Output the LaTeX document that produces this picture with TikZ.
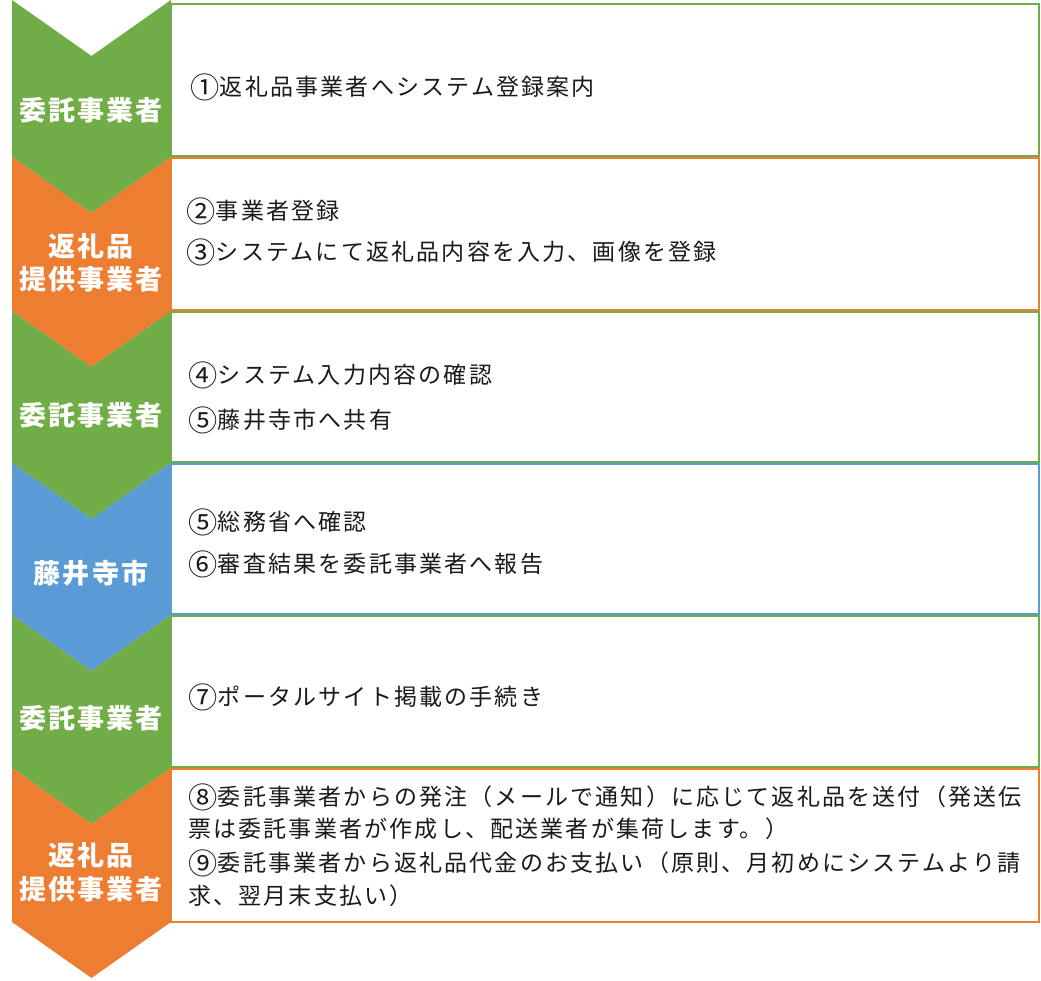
\documentclass[tikz,border=0pt]{standalone}
\usepackage{fontspec}
\usepackage{graphicx}
\newfontfamily\jp[LetterSpace=9.5]{Noto Sans CJK JP}
\newfontfamily\jpbold[LetterSpace=8]{Noto Sans CJK JP}
\newcommand\cnum[1]{\raisebox{-2.2pt}{\scalebox{1.27}{#1}}\hspace{0.5pt}}
\definecolor{cgreen}{HTML}{70AD47}
\definecolor{corange}{HTML}{ED7D31}
\definecolor{cblue}{HTML}{5B9BD5}
\definecolor{ctext}{HTML}{1A1A1A}
\tikzset{
  body/.style={anchor=west,inner sep=0pt,text=ctext,font=\jp\fontsize{23}{28}\selectfont},
  lab/.style={inner sep=0pt,text=white,font=\jpbold\bfseries\fontsize{27}{30}\selectfont},
  rowbox/.style={draw=#1,line width=2.2pt,fill=white},
}
\begin{document}
\begin{tikzpicture}[x=1pt,y=-1pt]
\useasboundingbox (0,0) rectangle (1041,981);
% chevrons
\foreach \t/\b/\c in {0/157/cgreen,157/311/corange,311/463/cgreen,463/615/cblue,615/768/cgreen,768/922/corange}{
  \fill[\c] (12,\t) -- (91.5,\t+56) -- (171,\t) -- (171,\b) -- (91.5,\b+56) -- (12,\b) -- cycle;
}
% boxes
\draw[rowbox=cgreen]  (171,4) rectangle (1039,156);
\draw[rowbox=corange] (171,158) rectangle (1039,310);
\draw[rowbox=cgreen]  (171,312) rectangle (1039,462);
\draw[rowbox=cblue]   (171,464) rectangle (1039,614);
\draw[rowbox=cgreen]  (171,616) rectangle (1039,767);
\draw[rowbox=corange] (171,769) rectangle (1039,922);
% chevron labels
\node[lab] (l1) at (91,110) {委託事業者};
\node[lab] (l2a) at (91,246) {返礼品};
\node[lab] (l2b) at (91,279) {提供事業者};
\node[lab] (l3) at (91,415) {委託事業者};
\node[lab] (l4) at (91,573) {藤井寺市};
\node[lab] (l5) at (91,718) {委託事業者};
\node[lab] (l6a) at (91,855) {返礼品};
\node[lab] (l6b) at (91,889) {提供事業者};
% body texts
\node[body] (t1) at (190,87) {\cnum{①}返礼品事業者へシステム登録案内};
\node[body] (t2) at (186,211) {\cnum{②}事業者登録};
\node[body] (t3) at (186,252) {\cnum{③}システムにて返礼品内容を入力、画像を登録};
\node[body] (t4) at (188,375) {\cnum{④}システム入力内容の確認};
\node[body] (t5) at (188,420) {\cnum{⑤}藤井寺市へ共有};
\node[body] (t6) at (188,522) {\cnum{⑤}総務省へ確認};
\node[body] (t7) at (188,564) {\cnum{⑥}審査結果を委託事業者へ報告};
\node[body] (t8) at (188,697) {\cnum{⑦}ポータルサイト掲載の手続き};
\node[body] (t9a) at (188,797) {\cnum{⑧}委託事業者からの発注（メールで通知）に応じて返礼品を送付（発送伝};
\node[body] (t9b) at (188,829) {票は委託事業者が作成し、配送業者が集荷します。）};
\node[body] (t9c) at (188,863) {\cnum{⑨}委託事業者から返礼品代金のお支払い（原則、月初めにシステムより請};
\node[body] (t9d) at (188,896) {求、翌月末支払い）};
\end{tikzpicture}
\end{document}
